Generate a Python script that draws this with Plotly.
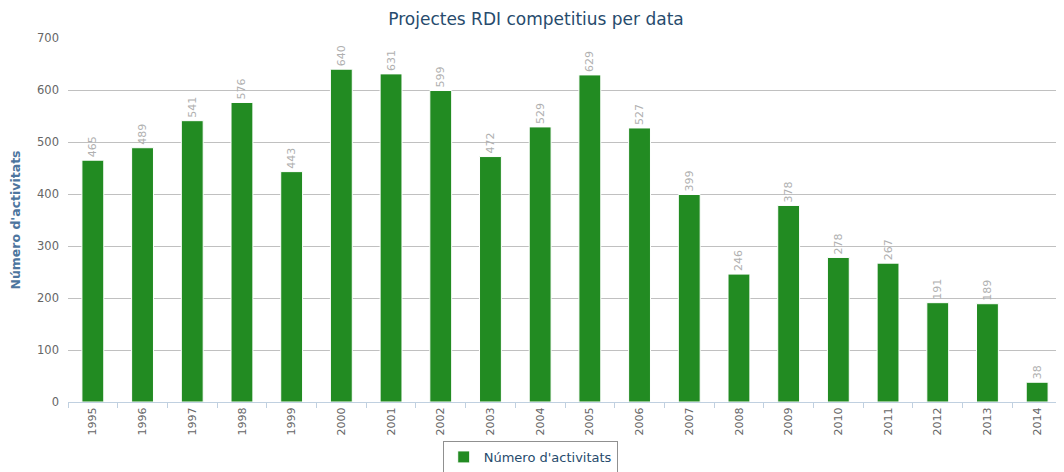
import plotly.graph_objects as go

years = [str(y) for y in range(1995, 2015)]
values = [465, 489, 541, 576, 443, 640, 631, 599, 472, 529, 629, 527, 399, 246, 378, 278, 267, 191, 189, 38]
series_name = "Número d'activitats"
title = "Projectes RDI competitius per data"
y_title = "Número d'activitats"

fig = go.Figure()
fig.add_trace(go.Bar(
    x=years, y=values, name=series_name,
    marker=dict(color="#228B22", line=dict(color="#ffffff", width=1)),
    text=[str(v) for v in values], textposition="outside", textangle=-90,
    textfont=dict(color="#b0b0b0", size=11, family="DejaVu Sans"),
    cliponaxis=False, width=0.44,
))
fig.update_layout(
    width=1056, height=464,
    margin=dict(l=60, r=2, t=30, b=70, autoexpand=False),
    paper_bgcolor="white", plot_bgcolor="white",
    font=dict(family="DejaVu Sans", color="#666666", size=11),
    title=dict(text=title, x=0.5, xanchor="center", y=0.977, yanchor="middle",
               font=dict(size=17, color="#274b6d", family="DejaVu Sans")),
    showlegend=True,
    legend=dict(orientation="h", x=0.465, xanchor="center", y=-0.151, yanchor="middle",
                bordercolor="#909090", borderwidth=1, bgcolor="white",
                font=dict(size=13, color="#274b6d"), itemwidth=30),
    bargap=0.56,
)
fig.update_xaxes(type="category", tickangle=-90, showgrid=False, showline=True, automargin=False,
                 linecolor="#c0d0e0", linewidth=1, ticks="outside", tickson="boundaries",
                 ticklen=5, tickcolor="#c0d0e0", tickfont=dict(size=11, color="#666666"))
fig.update_yaxes(range=[0, 700], dtick=100, showgrid=True, gridcolor="#c0c0c0", automargin=False,
                 zeroline=False, showline=False, ticks="", ticklabelstandoff=8,
                 tickfont=dict(size=11.5, color="#666666"),
                 title=dict(text="<b>" + y_title + "</b>",
                            font=dict(size=12.5, color="#4d759e", family="DejaVu Sans"),
                            standoff=20))
fig.write_html("out.html")
